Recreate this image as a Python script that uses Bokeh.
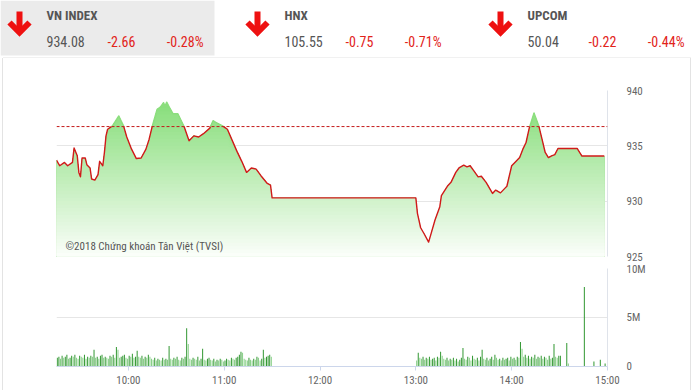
import numpy as np
from bokeh.plotting import figure
from bokeh.layouts import column
from bokeh.models import Range1d, FixedTicker, Span, Label
from bokeh.core.properties import value
from bokeh.embed import file_html
from bokeh.resources import INLINE

# ---------------- data ----------------
index_names = ["VN INDEX", "HNX", "UPCOM"]
index_values = [934.08, 105.55, 50.04]
index_changes = [-2.66, -0.75, -0.22]
index_pcts = [-0.28, -0.71, -0.44]

reference_value = 936.74

price_times = [
    "9:15", "9:17", "9:20", "9:22", "9:25", "9:26", "9:28", "9:29", "9:30", "9:31",
    "9:33", "9:34", "9:36", "9:37", "9:39", "9:41", "9:42", "9:44", "9:45", "9:46",
    "9:47", "9:50", "9:54", "9:57", "9:59", "10:02", "10:05", "10:08", "10:11", "10:13",
    "10:15", "10:18", "10:20", "10:22", "10:23", "10:24", "10:26", "10:28", "10:31", "10:35",
    "10:38", "10:41", "10:44", "10:47", "10:51", "10:53", "10:55", "10:59", "11:02", "11:08",
    "11:11", "11:14", "11:17", "11:20", "11:23", "11:27", "11:29", "11:30", "13:00", "13:01",
    "13:03", "13:05", "13:08", "13:09", "13:12", "13:15", "13:16", "13:20", "13:22", "13:25",
    "13:27", "13:30", "13:32", "13:34", "13:36", "13:39", "13:41", "13:44", "13:48", "13:50",
    "13:53", "13:56", "13:57", "14:00", "14:02", "14:05", "14:07", "14:09", "14:11", "14:14",
    "14:17", "14:19", "14:21", "14:23", "14:25", "14:27", "14:29", "14:41", "14:44", "14:58",
]
price_values = [
    933.7, 933.2, 933.5, 933.2, 933.5, 934.8, 934.1, 932.6, 932.2, 933.9,
    933.9, 933.3, 933.0, 932.0, 931.9, 932.4, 933.6, 933.2, 934.4, 935.9,
    936.5, 936.8, 937.7, 936.8, 935.8, 934.7, 933.85, 933.9, 934.7, 935.6,
    936.8, 938.3, 938.5, 938.9, 938.6, 938.95, 938.4, 937.9, 937.9, 936.7,
    935.45, 935.9, 935.8, 936.1, 936.6, 937.27, 937.1, 936.8, 936.5, 934.5,
    933.6, 932.6, 933.0, 932.9, 932.3, 931.6, 931.45, 930.3, 930.3, 928.9,
    927.6, 927.1, 926.3, 926.8, 928.3, 929.5, 930.5, 931.4, 931.7, 932.6,
    933.0, 933.25, 933.1, 933.2, 932.8, 932.2, 932.25, 931.7, 930.7, 931.0,
    930.75, 931.2, 931.35, 933.2, 933.5, 933.94, 934.7, 935.3, 936.6, 937.97,
    936.8, 935.6, 934.4, 933.94, 934.1, 934.2, 934.76, 934.76, 934.08, 934.08,
]

# volume per minute, in units of 100,000 shares
morning_start = "9:15"
morning_volume = [
    9, 10, 8, 11, 9, 10, 12, 8, 9, 11,
    10, 12, 9, 8, 11, 10, 9, 12, 8, 10,
    9, 11, 10, 17, 9, 10, 8, 11, 12, 9,
    10, 9, 8, 11, 10, 12, 9, 20, 17, 9,
    10, 11, 12, 9, 8, 11, 10, 13, 9, 10,
    16, 10, 9, 11, 8, 10, 9, 12, 10, 8,
    7, 9, 6, 8, 7, 6, 9, 7, 8, 7,
    21, 8, 7, 9, 8, 10, 7, 6, 9, 8,
    10, 39, 23, 8, 7, 9, 8, 7, 10, 6,
    8, 18, 7, 6, 8, 9, 7, 6, 8, 5,
    7, 6, 8, 7, 5, 6, 8, 7, 6, 9,
    8, 7, 9, 10, 12, 15, 14, 8, 7, 6,
    9, 7, 6, 8, 7, 10, 9, 6, 8, 17,
    9, 10, 11, 12, 10,
]
afternoon_start = "13:00"
afternoon_volume = [
    6, 14, 9, 8, 10, 7, 9, 8, 10, 7,
    8, 9, 6, 10, 9, 15, 11, 8, 7, 9,
    6, 8, 7, 9, 6, 8, 5, 7, 9, 19,
    8, 7, 10, 9, 6, 11, 8, 7, 9, 6,
    10, 17, 8, 7, 9, 6, 8, 10, 7, 12,
    9, 7, 8, 6, 9, 7, 8, 9, 6, 10,
    8, 9, 7, 10, 9, 25, 18, 10, 12, 9,
    11, 8, 10, 9, 12, 8, 10, 9, 11, 8,
    10, 9, 7, 11, 8, 9, 23, 10, 9, 11,
    11, 0, 0, 0, 24, 3, 0, 0, 0, 0,
    0, 0, 0, 0, 0, 81, 0, 0, 0, 0,
    0, 5, 0, 0, 0, 7, 0, 0, 3, 0,
    0, 2, 0, 0, 0, 0, 8, 8, 0,
]

x_tick_times = ["10:00", "11:00", "12:00", "13:00", "14:00", "15:00"]
session_start, session_end = "9:15", "15:00"
price_ticks = [925, 930, 935, 940]
volume_ticks = [0, 5_000_000, 10_000_000]
volume_tick_labels = ["0", "5M", "10M"]
copyright_text = "©2018 Chứng khoán Tân Việt (TVSI)"

# ---------------- helpers ----------------
def to_min(s):
    h, m = s.split(":")
    return int(h) * 60 + int(m) - 540  # minutes after 9:00

FONT = "Liberation Sans Narrow, Roboto Condensed, Arial Narrow, sans-serif"
W = 694
RED_TXT = "#e2231a"
GRID = "#e6e6e6"
BORDER = "#e3e3e3"
BOX_SIDES = {"box-shadow": "inset 2px 0 0 #ffffff, inset 3px 0 0 #e3e3e3, "
                           "inset -3px 0 0 #ffffff, inset -4px 0 0 #e3e3e3"}

# ---------------- header ----------------
HH = 58
hdr = figure(width=W, height=HH, x_range=Range1d(0, W), y_range=Range1d(HH, 0),
             output_backend="svg", toolbar_location=None, min_border=0,
             x_axis_location=None, y_axis_location=None)
hdr.frame_align = False
hdr.grid.visible = False
hdr.outline_line_color = None
hdr.background_fill_color = "white"
hdr.border_fill_color = "white"

hdr.quad(left=[0], right=[214], top=[0], bottom=[55], fill_color="#ebebeb", line_color=None)
hdr.line([2.5, W - 3.5, W - 3.5], [57.5, 57.5, 58], line_color=BORDER, line_width=1)
hdr.line([2.5, 2.5], [57.5, 58], line_color=BORDER, line_width=1)

block_left = [0, 238, 481]
arrow_cx = [b + 19 for b in block_left]
xs, ys = [], []
for cx in arrow_cx:
    xs.append([cx, cx]); ys.append([11, 32])
    xs.append([cx - 10, cx, cx + 10]); ys.append([22, 32, 22])
hdr.multi_line(xs, ys, line_color="#ee1111", line_width=6, line_join="miter")

name_x = [b + 46 for b in block_left]
chg_x = [b + 107 for b in block_left]
pct_x = [b + 203 for b in block_left]
hdr.text(x=name_x, y=[15] * 3, text=index_names, text_font=value(FONT), text_font_size="13px",
         text_font_style="bold", text_color="#555555", text_baseline="middle")
hdr.text(x=name_x, y=[41] * 3, text=[f"{v:.2f}" for v in index_values], text_font=value(FONT),
         text_font_size="14px", text_color="#555555", text_baseline="middle")
hdr.text(x=chg_x, y=[41] * 3, text=[f"{v:.2f}" for v in index_changes], text_font=value(FONT),
         text_font_size="14px", text_color=RED_TXT, text_baseline="middle")
hdr.text(x=pct_x, y=[41] * 3, text=[f"{v:.2f}%" for v in index_pcts], text_font=value(FONT),
         text_font_size="14px", text_color=RED_TXT, text_baseline="middle", text_align="right")

# ---------------- price chart ----------------
xr = Range1d(to_min(session_start), to_min(session_end))
pf = figure(width=W, height=204, x_range=xr, y_range=Range1d(price_ticks[0], price_ticks[-1]),
            output_backend="svg", toolbar_location=None, x_axis_location=None,
            y_axis_location="right", min_border_left=56, min_border_right=87,
            min_border_top=32, min_border_bottom=6)
pf.outline_line_color = None
pf.border_fill_color = None
pf.styles = BOX_SIDES
pf.xgrid.visible = False
pf.ygrid.ticker = FixedTicker(ticks=price_ticks)
pf.ygrid.grid_line_color = GRID
pf.yaxis.ticker = FixedTicker(ticks=price_ticks)
pf.yaxis.major_tick_line_color = None
pf.yaxis.minor_tick_line_color = None
pf.yaxis.axis_line_color = "#dfe3ea"
pf.yaxis.major_label_standoff = 13
pf.yaxis.major_label_text_font = FONT
pf.yaxis.major_label_text_font_size = "11px"
pf.yaxis.major_label_text_color = "#666666"

t = np.array([to_min(s) for s in price_times], dtype=float)
v = np.array(price_values, dtype=float)

# gradient fill via stacked areas
lo, hi = price_ticks[0], price_ticks[-1]
top_rgb = np.array([128, 220, 114])
bot_rgb = np.array([250, 254, 249])
N = 48
for k in range(N):
    level = hi - k * (hi - lo) / N
    f = k / (N - 1)
    rgb = (top_rgb + (bot_rgb - top_rgb) * f).astype(int)
    col = "#%02x%02x%02x" % tuple(rgb)
    pf.varea(x=t, y1=np.full_like(v, lo), y2=np.minimum(v, level), fill_color=col)

# split line at the reference level
below, above = [], []
cx_, cy_ = [t[0]], [v[0]]
cur_above = v[0] > reference_value
for i in range(1, len(t)):
    a = v[i] > reference_value
    if a != cur_above:
        fr = (reference_value - v[i - 1]) / (v[i] - v[i - 1])
        xc = t[i - 1] + fr * (t[i] - t[i - 1])
        cx_.append(xc); cy_.append(reference_value)
        (above if cur_above else below).append((cx_, cy_))
        cx_, cy_ = [xc], [reference_value]
        cur_above = a
    cx_.append(t[i]); cy_.append(v[i])
(above if cur_above else below).append((cx_, cy_))

pf.multi_line([s[0] for s in below], [s[1] for s in below], line_color="#d11a1a",
              line_width=1.4, line_join="round")
pf.multi_line([s[0] for s in above], [s[1] for s in above], line_color="#8cde7e",
              line_width=1.4, line_join="round")

pf.add_layout(Span(location=reference_value, dimension="width", line_color="#c41a1a",
                   line_dash="3 2", line_width=1))
pf.add_layout(Label(x=to_min(session_start) + 5.6, y=lo + 0.9, text=copyright_text,
                    text_font=FONT, text_font_size="11px", text_color="#555555",
                    text_baseline="middle"))

# ---------------- volume chart ----------------
vf = figure(width=W, height=128, x_range=xr, y_range=Range1d(volume_ticks[0], volume_ticks[-1]),
            output_backend="svg", toolbar_location=None, y_axis_location="right",
            min_border_left=56, min_border_right=87, min_border_top=6, min_border_bottom=24)
vf.outline_line_color = None
vf.border_fill_color = None
vf.styles = BOX_SIDES
vf.xgrid.visible = False
vf.ygrid.ticker = FixedTicker(ticks=volume_ticks)
vf.ygrid.grid_line_color = GRID
vf.yaxis.ticker = FixedTicker(ticks=volume_ticks)
vf.yaxis.major_label_overrides = dict(zip(volume_ticks, volume_tick_labels))
vf.yaxis.major_tick_line_color = None
vf.yaxis.minor_tick_line_color = None
vf.yaxis.axis_line_color = "#dfe3ea"
vf.yaxis.major_label_standoff = 13
vf.yaxis.major_label_text_font = FONT
vf.yaxis.major_label_text_font_size = "11px"
vf.yaxis.major_label_text_color = "#666666"

x_ticks = [to_min(s) for s in x_tick_times]
vf.xaxis.ticker = FixedTicker(ticks=x_ticks)
vf.xaxis.major_label_overrides = dict(zip(x_ticks, x_tick_times))
vf.xaxis.axis_line_color = "#ccd6eb"
vf.xaxis.major_tick_line_color = "#ccd6eb"
vf.xaxis.major_tick_in = 0
vf.xaxis.major_tick_out = 4
vf.xaxis.minor_tick_line_color = None
vf.xaxis.major_label_standoff = 3
vf.xaxis.major_label_text_font = FONT
vf.xaxis.major_label_text_font_size = "11px"
vf.xaxis.major_label_text_color = "#666666"

vol = np.array(morning_volume + afternoon_volume, dtype=float) * 100_000
vx = np.concatenate([to_min(morning_start) + np.arange(len(morning_volume)) + 0.5,
                     to_min(afternoon_start) + np.arange(len(afternoon_volume)) + 0.5])
colors = []
prev = 0
for val in vol:
    colors.append("#2f962f" if val >= prev else "#86cf86")
    prev = val
mask = vol > 0
vf.vbar(x=vx[mask], top=vol[mask], width=0.62, fill_color=[c for c, m in zip(colors, mask) if m],
        line_color=None)

layout = column(hdr, pf, vf, spacing=0)
open("out.html", "w").write(file_html(layout, INLINE))
